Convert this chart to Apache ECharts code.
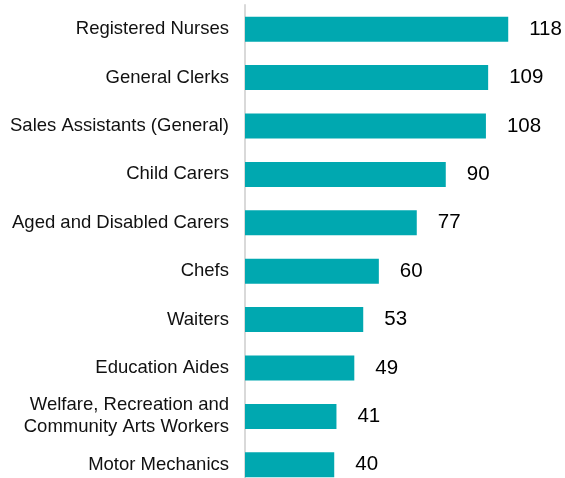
<!DOCTYPE html>
<html>
<head>
<meta charset="utf-8">
<script src="https://cdn.jsdelivr.net/npm/echarts@6/dist/echarts.min.js"></script>
<style>
  html, body { margin: 0; padding: 0; background: #fff; }
  #chart { width: 565px; height: 478px; }
</style>
</head>
<body>
<div id="chart"></div>
<script>
// occupations, top to bottom
var categories = [
  "Registered Nurses",
  "General Clerks",
  "Sales Assistants (General)",
  "Child Carers",
  "Aged and Disabled Carers",
  "Chefs",
  "Waiters",
  "Education Aides",
  "Welfare, Recreation and\nCommunity Arts Workers",
  "Motor Mechanics"
];
var values = [118, 109, 108, 90, 77, 60, 53, 49, 41, 40];

var chart = echarts.init(document.getElementById("chart"));
chart.setOption({
  animation: false,
  grid: {
    left: 245,
    right: 30,
    top: 5,
    height: 484,
    outerBoundsMode: "none",
    containLabel: false
  },
  xAxis: {
    type: "value",
    min: 0,
    max: 130,
    show: false
  },
  yAxis: {
    type: "category",
    inverse: true,
    data: categories,
    axisTick: { show: false },
    axisLine: {
      lineStyle: { color: "#d9d9d9", width: 2 }
    },
    axisLabel: {
      margin: 16,
      fontFamily: "Liberation Sans, Arial",
      fontSize: 18.5,
      lineHeight: 22,
      color: "#111"
    }
  },
  series: [
    {
      type: "bar",
      data: values,
      barWidth: 25,
      itemStyle: { color: "#00a8b0" },
      label: {
        show: true,
        position: "right",
        distance: 21,
        fontFamily: "Liberation Sans, Arial",
        fontSize: 20.5,
        color: "#000"
      }
    }
  ]
});
</script>
</body>
</html>
